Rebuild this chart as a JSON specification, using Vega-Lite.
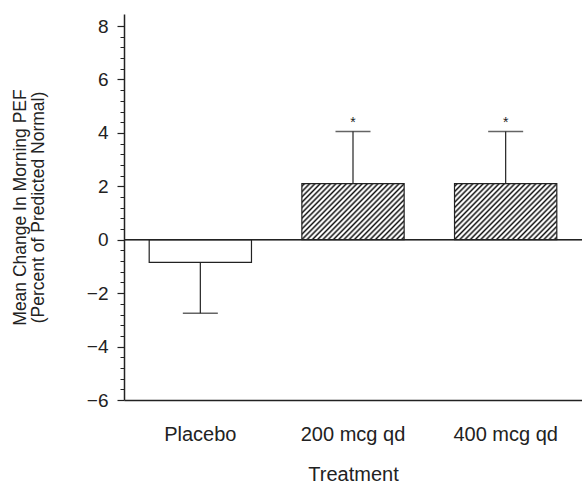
{
  "$schema": "https://vega.github.io/schema/vega-lite/v6.json",
  "width": 458,
  "height": 386,
  "autosize": {"type": "none"},
  "padding": {"left": 124, "top": 14, "right": 0, "bottom": 90},
  "background": "white",
  "config": {
    "view": {"stroke": null},
    "font": "Liberation Sans",
    "axis": {"labelFont": "Liberation Sans", "titleFont": "Liberation Sans", "titleFontWeight": "normal", "labelColor": "#222", "titleColor": "#222", "domainColor": "#222", "tickColor": "#222", "grid": false}
  },
  "data": {
    "values": [
      {"group": "Placebo", "mean": -0.85, "err": -2.75, "sig": ""},
      {"group": "200 mcg qd", "mean": 2.1, "err": 4.05, "sig": "*"},
      {"group": "400 mcg qd", "mean": 2.1, "err": 4.05, "sig": "*"}
    ]
  },
  "resolve": {"axis": {"y": "independent"}},
  "layer": [
    {
      "transform": [{"filter": "datum.group === 'Placebo'"}],
      "mark": {"type": "bar", "fill": "white", "stroke": "#222", "strokeWidth": 1.2},
      "encoding": {
        "x": {
          "field": "group", "type": "nominal", "sort": null,
          "scale": {"domain": ["Placebo", "200 mcg qd", "400 mcg qd"], "paddingInner": 0.33, "paddingOuter": 0.165},
          "axis": {"title": "Treatment", "labelAngle": 0, "ticks": false, "labelPadding": 24, "labelFontSize": 20, "titleFontSize": 20, "titlePadding": 20, "domainWidth": 1.5}
        },
        "y": {
          "field": "mean",
          "type": "quantitative",
          "scale": {"domain": [-6, 8.45], "nice": false, "zero": false},
          "axis": {
            "orient": "left",
            "title": ["Mean Change In Morning PEF", "(Percent of Predicted Normal)"],
            "titleFontSize": 17.5,
            "titleLineHeight": 18,
            "titlePadding": 39,
            "labelFontSize": 19,
            "labelPadding": 9,
            "tickSize": 7,
            "tickWidth": 1.2,
            "domainWidth": 1.5,
            "values": [-6, -4, -2, 0, 2, 4, 6, 8]
          }
        },
        "y2": {"datum": 0}
      }
    },
    {
      "transform": [{"filter": "datum.group !== 'Placebo'"}],
      "mark": {
        "type": "bar",
        "stroke": "#222",
        "strokeWidth": 1.2,
        "fill": {
          "gradient": "linear",
          "x1": 0, "y1": 0, "x2": 1.192, "y2": 0.644,
          "stops": [
            {"offset": 0.0033, "color": "#ffffff"}, {"offset": 0.0167, "color": "#111111"}, {"offset": 0.0300, "color": "#ffffff"},
            {"offset": 0.0367, "color": "#ffffff"}, {"offset": 0.0500, "color": "#111111"}, {"offset": 0.0633, "color": "#ffffff"},
            {"offset": 0.0700, "color": "#ffffff"}, {"offset": 0.0833, "color": "#111111"}, {"offset": 0.0967, "color": "#ffffff"},
            {"offset": 0.1033, "color": "#ffffff"}, {"offset": 0.1167, "color": "#111111"}, {"offset": 0.1300, "color": "#ffffff"},
            {"offset": 0.1367, "color": "#ffffff"}, {"offset": 0.1500, "color": "#111111"}, {"offset": 0.1633, "color": "#ffffff"},
            {"offset": 0.1700, "color": "#ffffff"}, {"offset": 0.1833, "color": "#111111"}, {"offset": 0.1967, "color": "#ffffff"},
            {"offset": 0.2033, "color": "#ffffff"}, {"offset": 0.2167, "color": "#111111"}, {"offset": 0.2300, "color": "#ffffff"},
            {"offset": 0.2367, "color": "#ffffff"}, {"offset": 0.2500, "color": "#111111"}, {"offset": 0.2633, "color": "#ffffff"},
            {"offset": 0.2700, "color": "#ffffff"}, {"offset": 0.2833, "color": "#111111"}, {"offset": 0.2967, "color": "#ffffff"},
            {"offset": 0.3033, "color": "#ffffff"}, {"offset": 0.3167, "color": "#111111"}, {"offset": 0.3300, "color": "#ffffff"},
            {"offset": 0.3367, "color": "#ffffff"}, {"offset": 0.3500, "color": "#111111"}, {"offset": 0.3633, "color": "#ffffff"},
            {"offset": 0.3700, "color": "#ffffff"}, {"offset": 0.3833, "color": "#111111"}, {"offset": 0.3967, "color": "#ffffff"},
            {"offset": 0.4033, "color": "#ffffff"}, {"offset": 0.4167, "color": "#111111"}, {"offset": 0.4300, "color": "#ffffff"},
            {"offset": 0.4367, "color": "#ffffff"}, {"offset": 0.4500, "color": "#111111"}, {"offset": 0.4633, "color": "#ffffff"},
            {"offset": 0.4700, "color": "#ffffff"}, {"offset": 0.4833, "color": "#111111"}, {"offset": 0.4967, "color": "#ffffff"},
            {"offset": 0.5033, "color": "#ffffff"}, {"offset": 0.5167, "color": "#111111"}, {"offset": 0.5300, "color": "#ffffff"},
            {"offset": 0.5367, "color": "#ffffff"}, {"offset": 0.5500, "color": "#111111"}, {"offset": 0.5633, "color": "#ffffff"},
            {"offset": 0.5700, "color": "#ffffff"}, {"offset": 0.5833, "color": "#111111"}, {"offset": 0.5967, "color": "#ffffff"},
            {"offset": 0.6033, "color": "#ffffff"}, {"offset": 0.6167, "color": "#111111"}, {"offset": 0.6300, "color": "#ffffff"},
            {"offset": 0.6367, "color": "#ffffff"}, {"offset": 0.6500, "color": "#111111"}, {"offset": 0.6633, "color": "#ffffff"},
            {"offset": 0.6700, "color": "#ffffff"}, {"offset": 0.6833, "color": "#111111"}, {"offset": 0.6967, "color": "#ffffff"},
            {"offset": 0.7033, "color": "#ffffff"}, {"offset": 0.7167, "color": "#111111"}, {"offset": 0.7300, "color": "#ffffff"},
            {"offset": 0.7367, "color": "#ffffff"}, {"offset": 0.7500, "color": "#111111"}, {"offset": 0.7633, "color": "#ffffff"},
            {"offset": 0.7700, "color": "#ffffff"}, {"offset": 0.7833, "color": "#111111"}, {"offset": 0.7967, "color": "#ffffff"},
            {"offset": 0.8033, "color": "#ffffff"}, {"offset": 0.8167, "color": "#111111"}, {"offset": 0.8300, "color": "#ffffff"},
            {"offset": 0.8367, "color": "#ffffff"}, {"offset": 0.8500, "color": "#111111"}, {"offset": 0.8633, "color": "#ffffff"},
            {"offset": 0.8700, "color": "#ffffff"}, {"offset": 0.8833, "color": "#111111"}, {"offset": 0.8967, "color": "#ffffff"},
            {"offset": 0.9033, "color": "#ffffff"}, {"offset": 0.9167, "color": "#111111"}, {"offset": 0.9300, "color": "#ffffff"},
            {"offset": 0.9367, "color": "#ffffff"}, {"offset": 0.9500, "color": "#111111"}, {"offset": 0.9633, "color": "#ffffff"},
            {"offset": 0.9700, "color": "#ffffff"}, {"offset": 0.9833, "color": "#111111"}, {"offset": 0.9967, "color": "#ffffff"}
          ]
        }
      },
      "encoding": {
        "x": {"field": "group", "type": "nominal", "sort": null},
        "y": {"field": "mean", "type": "quantitative", "axis": null},
        "y2": {"datum": 0}
      }
    },
    {
      "mark": {"type": "rule", "color": "#222", "strokeWidth": 1.2},
      "encoding": {
        "y": {
          "datum": 0,
          "type": "quantitative",
          "axis": {
            "orient": "left",
            "title": null,
            "labels": false,
            "domain": false,
            "tickSize": 4,
            "tickWidth": 1,
            "values": [-5.6, -5.2, -4.8, -4.4, -3.6, -3.2, -2.8, -2.4, -1.6, -1.2, -0.8, -0.4, 0.4, 0.8, 1.2, 1.6, 2.4, 2.8, 3.2, 3.6, 4.4, 4.8, 5.2, 5.6, 6.4, 6.8, 7.2, 7.6]
          }
        }
      }
    },
    {
      "mark": {"type": "rule", "color": "#222", "strokeWidth": 1.2},
      "encoding": {
        "x": {"field": "group", "type": "nominal", "sort": null},
        "y": {"field": "mean", "type": "quantitative", "axis": null},
        "y2": {"field": "err"}
      }
    },
    {
      "mark": {"type": "tick", "orient": "horizontal", "color": "#222", "size": 35, "thickness": 1.5},
      "encoding": {
        "x": {"field": "group", "type": "nominal", "sort": null},
        "y": {"field": "err", "type": "quantitative", "axis": null}
      }
    },
    {
      "mark": {"type": "text", "fontSize": 14, "baseline": "alphabetic", "dy": -5, "color": "#222"},
      "encoding": {
        "x": {"field": "group", "type": "nominal", "sort": null},
        "y": {"field": "err", "type": "quantitative", "axis": null},
        "text": {"field": "sig"}
      }
    }
  ]
}
